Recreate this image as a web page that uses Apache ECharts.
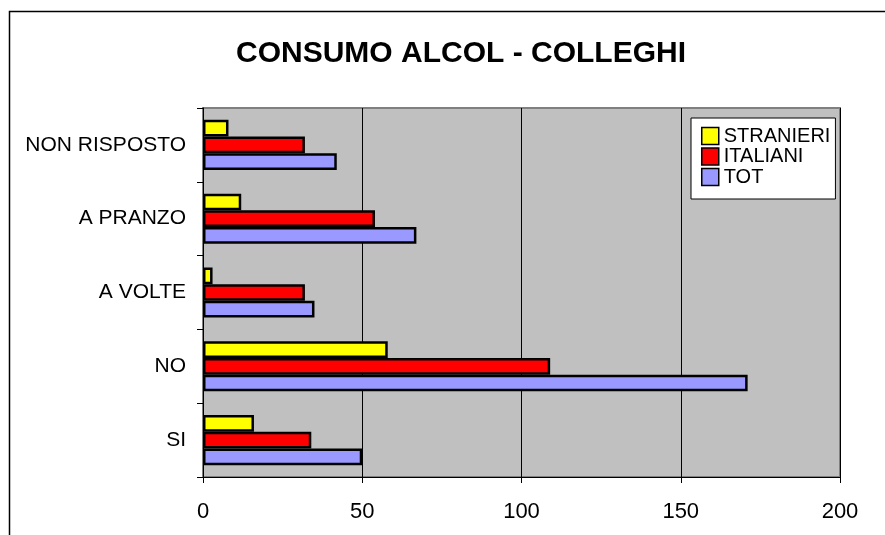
<!DOCTYPE html>
<html>
<head>
<meta charset="utf-8">
<script src="https://cdn.jsdelivr.net/npm/echarts@6/dist/echarts.min.js"></script>
<style>html,body{margin:0;padding:0;background:#fff;}#c{width:885px;height:535px;}</style>
</head>
<body>
<div id="c"></div>
<script>
const categories = ['SI', 'NO', 'A VOLTE', 'A PRANZO', 'NON RISPOSTO'];
const stranieri = [16, 58, 3, 12, 8];
const italiani = [34, 109, 32, 54, 32];
const tot = [50, 171, 35, 67, 42];
const seriesNames = ['STRANIERI', 'ITALIANI', 'TOT'];
const xTicks = [0, 50, 100, 150, 200];

const FONT = "'Liberation Sans', Arial, sans-serif";
const chart = echarts.init(document.getElementById('c'), null, {renderer: 'canvas'});
const colors = ['#ffff00', '#ff0000', '#9999ff'];
const values = [stranieri, italiani, tot];

chart.setOption({
  animation: false,
  backgroundColor: '#ffffff',
  title: {
    text: 'CONSUMO ALCOL - COLLEGHI',
    left: 231,
    top: 34,
    textStyle: {fontFamily: FONT, fontWeight: 'bold', fontSize: 30, color: '#000'}
  },
  graphic: [{
    type: 'rect', silent: true, z: -1,
    shape: {x: 9.5, y: 11.5, width: 1000, height: 1000},
    style: {fill: 'none', stroke: '#000', lineWidth: 1.5}
  }],
  legend: {
    orient: 'vertical',
    left: 691,
    top: 118,
    data: seriesNames,
    backgroundColor: '#ffffff',
    borderColor: '#000',
    borderWidth: 1,
    borderRadius: 0,
    padding: [8, 5, 12, 10],
    itemWidth: 17,
    itemHeight: 17,
    itemGap: 0.5,
    icon: 'rect',
    itemStyle: {borderColor: '#000', borderWidth: 1.5},
    textStyle: {fontFamily: FONT, fontSize: 20, lineHeight: 17, color: '#000'}
  },
  grid: {
    left: 203, right: 45, top: 108, bottom: 58,
    show: true, backgroundColor: '#c0c0c0', borderColor: '#808080', borderWidth: 2
  },
  xAxis: {
    type: 'value',
    min: xTicks[0], max: xTicks[xTicks.length - 1], interval: 50,
    axisLine: {show: true, lineStyle: {color: '#000', width: 1}},
    axisTick: {show: true, length: 6, lineStyle: {color: '#000'}},
    axisLabel: {margin: 24, fontFamily: FONT, fontSize: 22, color: '#000'},
    splitLine: {show: true, lineStyle: {color: '#000', width: 1}}
  },
  yAxis: {
    type: 'category',
    data: categories,
    axisLine: {show: true, lineStyle: {color: '#000', width: 1}},
    axisTick: {show: true, length: 6, lineStyle: {color: '#000'}},
    axisLabel: {margin: 17, fontFamily: FONT, fontSize: 21, color: '#000'},
    splitLine: {show: false}
  },
  series: seriesNames.map((n, i) => ({
    name: n,
    type: 'bar',
    data: values[i],
    barWidth: 16.7,
    barGap: '0%',
    itemStyle: {color: colors[i], borderColor: '#000', borderWidth: 2.5}
  }))
});
</script>
</body>
</html>
